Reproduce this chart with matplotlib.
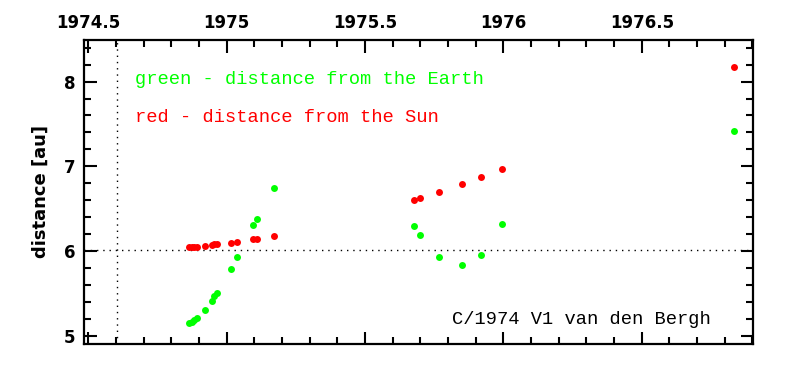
import numpy as np
import matplotlib
matplotlib.use("Agg")
import matplotlib.pyplot as plt
from matplotlib.ticker import MultipleLocator, FixedFormatter, FixedLocator

# observation epochs (decimal years)
t = [1974.864, 1974.874, 1974.883, 1974.892, 1974.922, 1974.946, 1974.955,
     1974.965, 1975.016, 1975.038, 1975.096, 1975.108, 1975.170,
     1975.676, 1975.698, 1975.768, 1975.851, 1975.919, 1975.996, 1976.834]
# distance from the Earth [au]
delta = [5.149, 5.168, 5.188, 5.212, 5.306, 5.412, 5.471,
         5.509, 5.788, 5.929, 6.309, 6.380, 6.749,
         6.294, 6.188, 5.933, 5.832, 5.956, 6.326, 7.415]
# distance from the Sun [au]
r = [6.044, 6.045, 6.047, 6.050, 6.062, 6.079, 6.082,
     6.086, 6.102, 6.114, 6.145, 6.147, 6.185,
     6.600, 6.624, 6.698, 6.792, 6.871, 6.965, 8.168]

t_perihelion = 1974.605
q = 6.019

xticks = [1974.5, 1975, 1975.5, 1976, 1976.5]
xlabels = ["1974.5", "1975", "1975.5", "1976", "1976.5"]
yticks = [5, 6, 7, 8]


def main():
    fig = plt.figure(figsize=(7.95, 3.75), dpi=100)
    ax = fig.add_axes([0.1057, 0.0827, 0.9472 - 0.1057, 0.8933 - 0.0827])

    ax.axvline(t_perihelion, color="black", lw=1, ls=(0, (1, 3.5)), zorder=1)
    ax.axhline(q, color="black", lw=1, ls=(0, (1, 3.5)), zorder=1)

    ax.plot(t, delta, "o", color="#00ff00", ms=5, mec="none", zorder=3)
    ax.plot(t, r, "o", color="#ff0000", ms=5, mec="none", zorder=3)

    ax.set_xlim(1974.4845, 1976.902)
    ax.set_ylim(4.906, 8.49)

    ax.xaxis.set_major_locator(FixedLocator(xticks))
    ax.xaxis.set_major_formatter(FixedFormatter(xlabels))
    ax.xaxis.set_minor_locator(MultipleLocator(0.1))
    ax.yaxis.set_major_locator(FixedLocator(yticks))
    ax.yaxis.set_minor_locator(MultipleLocator(0.2))

    ax.tick_params(which="both", direction="in", top=True, bottom=True,
                   left=True, right=True, labeltop=True, labelbottom=False,
                   width=1.5)
    ax.tick_params(which="major", length=9, labelsize=12, pad=6)
    ax.tick_params(which="minor", length=5)
    for lab in ax.get_xticklabels() + ax.get_yticklabels():
        lab.set_fontweight("bold")
    for sp in ax.spines.values():
        sp.set_linewidth(1.6)

    ax.set_ylabel("distance [au]", fontsize=13, fontweight="bold", labelpad=10)

    ax.text(135, 375 - 80, "green - distance from the Earth",
            transform=None, color="#00ff00", fontsize=13.5,
            family="Liberation Mono", va="center", ha="left")
    ax.text(135, 375 - 117, "red - distance from the Sun",
            transform=None, color="#ff0000", fontsize=13.5,
            family="Liberation Mono", va="center", ha="left")
    ax.text(711, 375 - 320, "C/1974 V1 van den Bergh",
            transform=None, color="black", fontsize=13.5,
            family="Liberation Mono", va="center", ha="right")

    fig.savefig("out.png", dpi=100)


if __name__ == "__main__":
    main()
